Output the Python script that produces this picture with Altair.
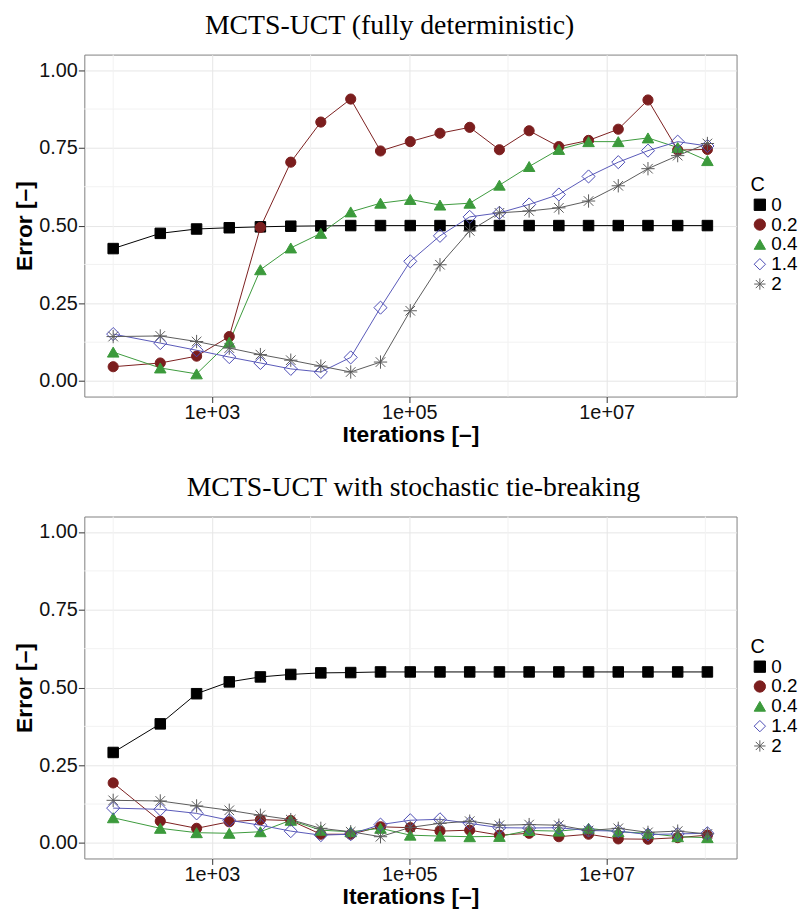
import altair as alt
import pandas as pd

iterations = [100, 300, 700, 1500, 3100, 6300, 12700, 25500, 51100, 102300,
              204700, 409500, 819100, 1638300, 3276700, 6553500, 13107100,
              26214300, 52428700, 104857500]
c_levels = ["0", "0.2", "0.4", "1.4", "2"]

# MCTS-UCT (fully deterministic)
det_c0 = [0.426, 0.475, 0.489, 0.493, 0.496, 0.498, 0.499, 0.500, 0.500, 0.500,
          0.500, 0.500, 0.500, 0.500, 0.500, 0.500, 0.500, 0.500, 0.500, 0.500]
det_c02 = [0.046, 0.058, 0.080, 0.143, 0.494, 0.704, 0.833, 0.907, 0.740, 0.770,
           0.797, 0.816, 0.744, 0.805, 0.754, 0.774, 0.810, 0.904, 0.743, 0.745]
det_c04 = [0.093, 0.042, 0.023, 0.125, 0.358, 0.428, 0.475, 0.544, 0.572, 0.584,
           0.566, 0.572, 0.630, 0.690, 0.745, 0.770, 0.770, 0.782, 0.751, 0.709]
det_c14 = [0.151, 0.122, 0.099, 0.077, 0.058, 0.039, 0.029, 0.076, 0.236, 0.385,
           0.467, 0.528, 0.541, 0.568, 0.600, 0.658, 0.704, 0.741, 0.770, 0.756]
det_c2 = [0.143, 0.145, 0.127, 0.106, 0.085, 0.067, 0.048, 0.029, 0.061, 0.226,
          0.374, 0.483, 0.541, 0.547, 0.557, 0.579, 0.628, 0.683, 0.725, 0.764]

# MCTS-UCT with stochastic tie-breaking
sto_c0 = [0.291, 0.383, 0.480, 0.518, 0.534, 0.542, 0.547, 0.548, 0.550, 0.550,
          0.550, 0.550, 0.550, 0.550, 0.550, 0.550, 0.550, 0.550, 0.550, 0.550]
sto_c02 = [0.193, 0.070, 0.047, 0.068, 0.075, 0.072, 0.028, 0.028, 0.052, 0.049,
           0.038, 0.041, 0.025, 0.031, 0.020, 0.028, 0.013, 0.012, 0.017, 0.025]
sto_c04 = [0.081, 0.047, 0.033, 0.031, 0.036, 0.073, 0.041, 0.036, 0.047, 0.025,
           0.022, 0.020, 0.021, 0.040, 0.038, 0.047, 0.036, 0.031, 0.020, 0.017]
sto_c14 = [0.112, 0.108, 0.095, 0.073, 0.057, 0.038, 0.025, 0.028, 0.059, 0.073,
           0.076, 0.063, 0.049, 0.048, 0.049, 0.040, 0.038, 0.027, 0.029, 0.031]
sto_c2 = [0.137, 0.135, 0.119, 0.105, 0.089, 0.075, 0.047, 0.036, 0.020, 0.050,
          0.063, 0.070, 0.057, 0.059, 0.057, 0.040, 0.047, 0.034, 0.038, 0.029]

title_top = "MCTS-UCT (fully deterministic)"
title_bottom = "MCTS-UCT with stochastic tie-breaking"

major_x = [1e3, 1e5, 1e7]
minor_x = [1e2, 1e4, 1e6, 1e8]
major_y = [0.0, 0.25, 0.5, 0.75, 1.0]
minor_y = [0.125, 0.375, 0.625, 0.875]

stroke_colors = ["#000000", "#7B1E1E", "#3C9A3C", "#4B4BB4", "#5A5A5A"]
line_colors = ["#000000", "#7B1E1E", "#3C9A3C", "#5858B8", "#5A5A5A"]
fill_colors = ["#000000", "#7B1E1E", "#3C9A3C", "transparent", "transparent"]
asterisk = "M-1,0L1,0M0,-1L0,1M-0.72,-0.72L0.72,0.72M-0.72,0.72L0.72,-0.72"
shapes = ["square", "circle", "triangle-up", "diamond", asterisk]
marker_sizes = [112, 105, 135, 175, 180]

SANS = "Liberation Sans"
SERIF = "Liberation Serif"


def make_df(series):
    rows = []
    for c, vals, sz in zip(c_levels, series, marker_sizes):
        for it, v in zip(iterations, vals):
            rows.append({"iter": it, "err": v, "C": c, "sz": sz})
    return pd.DataFrame(rows)


xscale = alt.Scale(type="log", domain=[51, 2.07e8], nice=False)
yscale = alt.Scale(domain=[-0.05, 1.05], nice=False, zero=False)
x_axis = alt.Axis(values=major_x, title="Iterations [–]", labelPadding=0,
                  titlePadding=1,
                  labelExpr="'1e+0' + round(log(datum.value)/log(10))")
y_axis = alt.Axis(values=major_y, format=".2f", title="Error [–]",
                  labelPadding=1, titlePadding=2)


def panel(df, title, dx):
    x_enc = alt.X("iter:Q", scale=xscale, axis=x_axis)
    y_enc = alt.Y("err:Q", scale=yscale, axis=y_axis)
    leg = alt.Legend(title="C", orient="none", legendX=672, legendY=122)

    vgrid = alt.Chart(pd.DataFrame({"iter": minor_x})).mark_rule(
        color="#F2F2F2", strokeWidth=1).encode(x=x_enc)
    hgrid = alt.Chart(pd.DataFrame({"err": minor_y})).mark_rule(
        color="#F2F2F2", strokeWidth=1).encode(y=y_enc)

    base = alt.Chart(df)
    line_layers = [
        base.transform_filter(alt.datum.C == c).mark_line(strokeWidth=1, color=col)
        .encode(x=x_enc, y=y_enc)
        for c, col in zip(c_levels, line_colors)
    ]
    points = base.mark_point(opacity=1, strokeWidth=1).encode(
        x=x_enc, y=y_enc,
        color=alt.Color("C:N", scale=alt.Scale(domain=c_levels, range=stroke_colors),
                        legend=leg),
        fill=alt.Fill("C:N", scale=alt.Scale(domain=c_levels, range=fill_colors),
                      legend=leg),
        shape=alt.Shape("C:N", scale=alt.Scale(domain=c_levels, range=shapes),
                        legend=leg),
        size=alt.Size("sz:Q", scale=None),
    )
    return alt.layer(vgrid, hgrid, *line_layers, points).properties(
        width=658, height=345,
        title=alt.TitleParams(title, font=SERIF, fontSize=28, fontWeight="normal",
                              anchor="middle", frame="group", dx=dx, offset=14,
                              color="#000000"),
    )


top = panel(make_df([det_c0, det_c02, det_c04, det_c14, det_c2]), title_top, -21)
bottom = panel(make_df([sto_c0, sto_c02, sto_c04, sto_c14, sto_c2]), title_bottom, 3)

chart = alt.vconcat(top, bottom, spacing=27).resolve_scale(
    color="independent", fill="independent", shape="independent"
).resolve_legend(
    color="independent", fill="independent", shape="independent"
).properties(
    padding={"left": 5, "top": 0, "right": 0, "bottom": 0}
).configure_view(
    stroke="#7F7F7F", strokeWidth=1
).configure_axis(
    domain=False, grid=True, gridColor="#E6E6E6", gridWidth=1,
    tickColor="#333333", tickSize=6, tickWidth=1,
    labelFont=SANS, labelFontSize=20, labelColor="#111111",
    titleFont=SANS, titleFontSize=23, titleFontWeight="bold", titleColor="#000000",
).configure_legend(
    padding=0, rowPadding=-1, titlePadding=0, labelOffset=2,
    titleFontSize=20, labelFontSize=19, titleFont=SANS, labelFont=SANS,
    titleFontWeight="normal", symbolSize=130, symbolStrokeWidth=1,
    labelColor="#000000", titleColor="#000000",
)

chart.save("out.html", embed_options={"renderer": "svg", "actions": False})
